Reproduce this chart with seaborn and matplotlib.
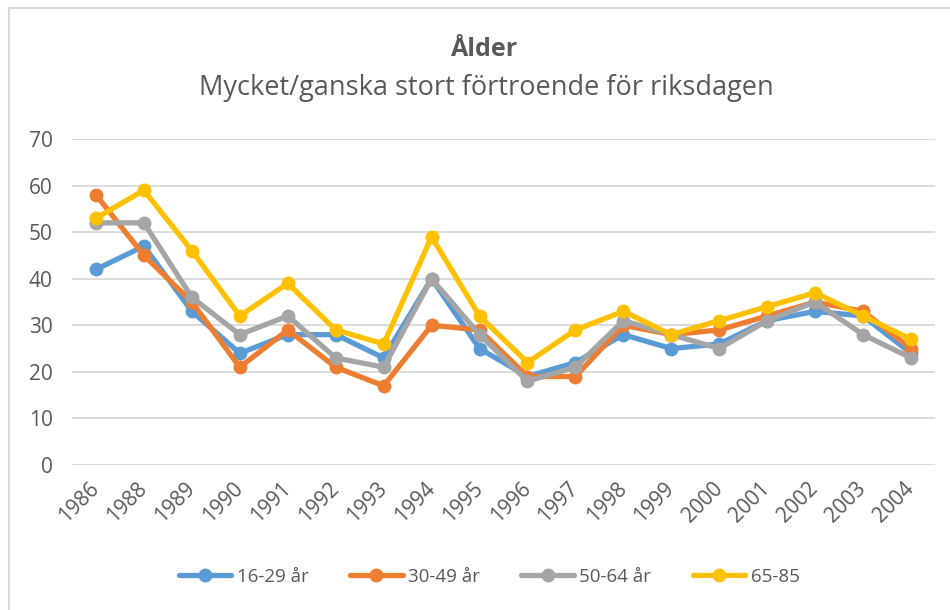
import pandas as pd
import numpy as np
import matplotlib.pyplot as plt
import seaborn as sns
from matplotlib.lines import Line2D

# -------------------------
# Data
# -------------------------
years = ["1986", "1988", "1989", "1990", "1991", "1992", "1993", "1994", "1995",
         "1996", "1997", "1998", "1999", "2000", "2001", "2002", "2003", "2004"]
grp_16_29 = [42, 47, 33, 24, 28, 28, 23, 40, 25, 19, 22, 28, 25, 26, 31, 33, 32, 24]
grp_30_49 = [58, 45, 35, 21, 29, 21, 17, 30, 29, 19, 19, 30, 28, 29, 32, 35, 33, 25]
grp_50_64 = [52, 52, 36, 28, 32, 23, 21, 40, 28, 18, 21, 31, 28, 25, 31, 35, 28, 23]
grp_65_85 = [53, 59, 46, 32, 39, 29, 26, 49, 32, 22, 29, 33, 28, 31, 34, 37, 32, 27]

groups = ["16-29 år", "30-49 år", "50-64 år", "65-85"]
colors = ["#5B9BD5", "#ED7D31", "#A5A5A5", "#FFC000"]

series = [grp_16_29, grp_30_49, grp_50_64, grp_65_85]
rows = []
for g, vals in zip(groups, series):
    for i, (y, v) in enumerate(zip(years, vals)):
        rows.append({"pos": i, "år": y, "grupp": g, "andel": v})
df = pd.DataFrame(rows)

TXT = "#595959"

sns.set_theme(style="white")
plt.rcParams["font.family"] = ["Open Sans", "DejaVu Sans"]

fig = plt.figure(figsize=(9.5, 6.1), dpi=100)
ax = fig.add_axes([0.0758, 0.2377, 0.9084, 0.5344])

sns.lineplot(data=df, x="pos", y="andel", hue="grupp", hue_order=groups,
             palette=colors, marker="o", markersize=10, markeredgewidth=0,
             linewidth=3.8, legend=False, ax=ax)

ax.set_xlim(-0.5, len(years) - 0.5)
ax.set_ylim(0, 70)
ax.set_yticks(np.arange(0, 71, 10))
ax.set_xticks(range(len(years)))
ax.set_xticklabels(years, rotation=45, ha="right", va="center",
                   rotation_mode="anchor")
ax.tick_params(axis="both", length=0, labelsize=15, colors=TXT)
ax.tick_params(axis="y", pad=14)
ax.tick_params(axis="x", pad=15)
ax.set_xlabel("")
ax.set_ylabel("")
ax.grid(axis="y", color="#D9D9D9", linewidth=1.3)
ax.set_axisbelow(True)
for s in ax.spines.values():
    s.set_visible(False)

fig.text(0.510, 1 - 49 / 610, "Ålder", ha="center", va="center",
         fontsize=18, fontweight="bold", color=TXT)
fig.text(0.512, 1 - 88 / 610, "Mycket/ganska stort förtroende för riksdagen",
         ha="center", va="center", fontsize=19.5, color=TXT)

handles = [Line2D([0], [0], color=c, linewidth=3.8, marker="o", markersize=10,
                  markeredgewidth=0) for c in colors]
fig.legend(handles, groups, loc="center", bbox_to_anchor=(0.515, 1 - 577 / 610),
           ncol=4, frameon=False, fontsize=13.5, labelcolor=TXT,
           handlelength=2.8, handletextpad=0.3, columnspacing=2.2)

# Excel-style chart border (top and left visible)
fig.add_artist(Line2D([9 / 950, 1], [1 - 8 / 610, 1 - 8 / 610],
                      transform=fig.transFigure, color="#D9D9D9", linewidth=1.5))
fig.add_artist(Line2D([9 / 950, 9 / 950], [0, 1 - 8 / 610],
                      transform=fig.transFigure, color="#D9D9D9", linewidth=1.5))

fig.savefig("out.png", dpi=100, facecolor="white")
